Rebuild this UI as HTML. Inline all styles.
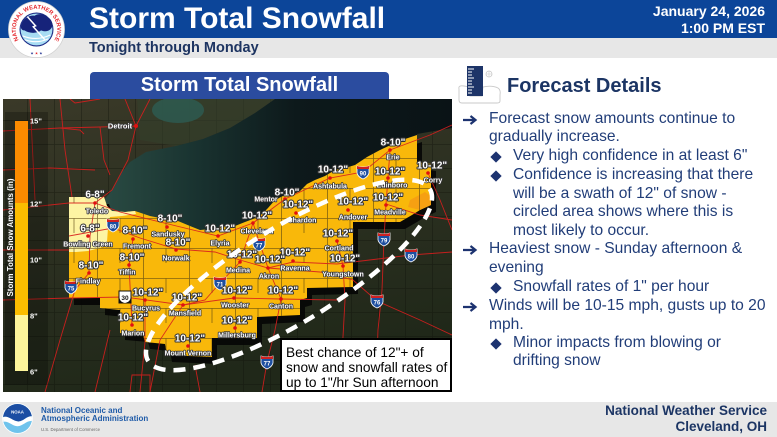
<!DOCTYPE html>
<html><head><meta charset="utf-8">
<style>
*{margin:0;padding:0;box-sizing:border-box}
html,body{width:777px;height:437px;overflow:hidden;background:#fff;font-family:"Liberation Sans",Arial,sans-serif}
.a{position:absolute;white-space:nowrap}
.t{position:absolute;white-space:nowrap;color:#213d78;font-size:15.6px;line-height:18px}
.dm{position:absolute;width:8px;height:8px;background:#1d3370;transform:rotate(45deg)}
.ar{position:absolute}
</style></head><body>

<div class="a" style="left:0;top:0;width:777px;height:38px;background:#0c4599"></div>
<div class="a" style="left:0;top:38px;width:777px;height:20px;background:#e7e7e7"></div>
<div class="a" style="left:0;top:402px;width:777px;height:35px;background:#e7e7e7"></div>

<!-- NWS logo -->
<svg class="a" style="left:8px;top:1px" width="57" height="57" viewBox="0 0 62 62">
<circle cx="31" cy="31" r="30.5" fill="#fff" stroke="#d0d0d0" stroke-width="0.8"/>
<path id="arc" d="M15.1,46.9 A22.5,22.5 0 1 1 46.9,46.9" fill="none"/>
<text font-family="Liberation Sans" font-weight="bold" font-size="6.3" fill="#e4262c"><textPath href="#arc" startOffset="50%" text-anchor="middle">NATIONAL WEATHER SERVICE</textPath></text>
<text x="31" y="58" font-family="DejaVu Sans" font-size="4" text-anchor="middle"><tspan fill="#1b2c8c">★ </tspan><tspan fill="#e4262c">★</tspan><tspan fill="#1b2c8c"> ★</tspan></text>
<circle cx="31" cy="31" r="18.5" fill="#1b2a86"/>
<circle cx="31" cy="31" r="17.3" fill="#a7dcf3"/>
<path d="M14,28 C15,20 22,15 29,16 C33,13 40,14 43,18 C47,19 49,24 48,28 C46,33 40,34 36,32 C31,36 22,35 18,32 C15,32 14,30 14,28 Z" fill="#16237a"/>
<path d="M16,38 Q31,44 46,37 M18,42 Q31,47 44,41" stroke="#fff" stroke-width="1.2" fill="none"/>
<polyline points="21,17 30,27 27.5,28 40,42" stroke="#fff" stroke-width="1.6" fill="none"/>
</svg>

<div class="a" style="left:89px;top:3.6px;font-size:30px;line-height:30px;font-weight:bold;color:#fff">Storm Total Snowfall</div>
<div class="a" style="left:89px;top:40.5px;font-size:14.5px;line-height:15px;font-weight:bold;color:#1d3461">Tonight through Monday</div>
<div class="a" style="right:12px;top:3.4px;font-size:14px;line-height:16.5px;font-weight:bold;color:#fff;text-align:right">January 24, 2026<br>1:00 PM EST</div>

<!-- Map title -->
<div class="a" style="left:90px;top:72px;width:299px;height:27px;background:#2b4c9f;border-radius:4px 4px 0 0;color:#fff;font-size:20px;font-weight:bold;line-height:27px;text-align:center">Storm Total Snowfall</div>

<!-- Map -->
<svg class="a" style="left:3px;top:99px" width="449" height="293" viewBox="3 99 449 293">
<defs>
 <linearGradient id="land" x1="0" y1="0" x2="0.3" y2="1">
  <stop offset="0" stop-color="#3a3928"/><stop offset="0.5" stop-color="#2c3021"/><stop offset="1" stop-color="#202819"/>
 </linearGradient>
 <linearGradient id="lake" x1="0" y1="0" x2="1" y2="0">
  <stop offset="0" stop-color="#2a4b43"/><stop offset="0.25" stop-color="#1a3431"/><stop offset="0.55" stop-color="#0d191b"/><stop offset="1" stop-color="#0a1316"/>
 </linearGradient>
 <pattern id="cty" width="27" height="24" patternUnits="userSpaceOnUse"><path d="M0 0.5H27M0.5 0V24" stroke="#0d0f08" stroke-width="0.8" fill="none"/></pattern>
 <pattern id="cty2" width="46" height="30" patternUnits="userSpaceOnUse" x="5" y="8"><path d="M0 0.5H46M0.5 0V30M23 0V15" stroke="#5c4611" stroke-width="0.8" fill="none"/></pattern>
 <clipPath id="gclip"><path d="M69,197 L104,197 L107,206 L112,211 L125,212 L135,211 L150,216 L165,219 L178,221 L190,226 L200,230 L212,229 L225,226 L235,226 L245,222 L253,219 L262,214 L268,208 L275,200 L283,196 L292,195 L300,191 L307,184 L315,180 L325,176 L335,170 L345,168 L355,165 L367,157 L380,150 L393,144 L405,139 L417,135 L417,162 L431,164 L431,205 L420,210 L412,215 L400,222 L353,222 L353,287 L307,288 L307,298 L300,300 L300,315 L257,317 L257,338 L212,338 L212,357 L167,355 L165,344 L145,342 L143,335 L120,333 L120,310 L100,308 L100,298 L69,298 Z"/></clipPath>
 <style>
  .amt{font:bold 10px "Liberation Sans",sans-serif;fill:#fff;stroke:#333;stroke-width:2px;paint-order:stroke;stroke-linejoin:round;text-anchor:middle}
  .cty{font:bold 7px "Liberation Sans",sans-serif;fill:#fff;stroke:#333;stroke-width:1.6px;paint-order:stroke;stroke-linejoin:round;text-anchor:middle}
  .sh{font:bold 6px "Liberation Sans",sans-serif;fill:#fff;text-anchor:middle}
 </style>
</defs>
<rect x="3" y="99" width="449" height="293" fill="url(#land)"/>
<rect x="3" y="99" width="449" height="293" fill="url(#cty)" opacity="0.42"/>
<path d="M137,99 L140,140 L176,146 L203,139 L230,128 L255,113 L275,99 Z" fill="#33402c" opacity="0.6"/>
<path d="M104,200 L113,189 L122,172 L130,162 L146,152 L176,146 L203,139 L230,128 L255,113 L275,99 L452,99 L452,128 L417,134 L417,170 L250,240 L104,225 Z" fill="url(#lake)"/>
<ellipse cx="178" cy="110" rx="26" ry="13" fill="#2e5a50" opacity="0.85"/>

<!-- shadow + snow regions -->
<path transform="translate(5,7)" fill="#050505" opacity="0.88" d="M69,197 L104,197 L107,206 L112,211 L125,212 L135,211 L150,216 L165,219 L178,221 L190,226 L200,230 L212,229 L225,226 L235,226 L245,222 L253,219 L262,214 L268,208 L275,200 L283,196 L292,195 L300,191 L307,184 L315,180 L325,176 L335,170 L345,168 L355,165 L367,157 L380,150 L393,144 L405,139 L417,135 L417,162 L431,164 L431,205 L420,210 L412,215 L400,222 L353,222 L353,287 L307,288 L307,298 L300,300 L300,315 L257,317 L257,338 L212,338 L212,357 L167,355 L165,344 L145,342 L143,335 L120,333 L120,310 L100,308 L100,298 L69,298 Z"/>
<path fill="#f9b80a" d="M69,197 L104,197 L107,206 L112,211 L125,212 L135,211 L150,216 L165,219 L178,221 L190,226 L200,230 L212,229 L225,226 L235,226 L245,222 L253,219 L262,214 L268,208 L275,200 L283,196 L292,195 L300,191 L307,184 L315,180 L325,176 L335,170 L345,168 L355,165 L367,157 L380,150 L393,144 L405,139 L417,135 L417,162 L431,164 L431,205 L420,210 L412,215 L400,222 L353,222 L353,287 L307,288 L307,298 L300,300 L300,315 L257,317 L257,338 L212,338 L212,357 L167,355 L165,344 L145,342 L143,335 L120,333 L120,310 L100,308 L100,298 L69,298 Z"/>
<path fill="#f59a14" opacity="0.8" d="M410,200 L425,192 L431,196 L431,205 L420,210 L408,207 Z"/>
<path fill="#fdf4a3" d="M69,197 L104,197 L107,206 L112,211 L125,212 L135,211 L136,214 L122,216 L110,217 L108,228 L107,242 L100,248 L88,251 L76,252 L69,252 Z"/>
<rect x="3" y="99" width="449" height="293" fill="url(#cty2)" opacity="0.75" clip-path="url(#gclip)"/>

<!-- roads -->
<g stroke="#d81e1e" stroke-width="0.9" fill="none" opacity="0.9">
<path d="M3,131 L60,128 L100,127 L136,126"/>
<path d="M136,126 L125,99 M136,126 L150,99 M70,99 L75,103 L100,99"/>
<path d="M136,126 L128,160 L112,190 L95,203 L90,236 L89,273 L75,290 L60,340 L45,392"/>
<path d="M60,99 L65,150 L72,197"/>
<path d="M3,170 L50,168 L95,170 M30,99 L35,200 M3,210 L69,203 L95,203 M3,250 L69,250 M100,127 L104,160 L110,175 M60,128 L80,130 L84,134"/>
<path d="M69,236 L113,228 L140,238 L176,249 L215,252 L240,260 L268,268 L293,262 L337,264 L353,262 L411,255 L452,252"/>
<path d="M95,203 L120,212 L160,222 L218,236 L253,223"/>
<path d="M253,223 L285,199 L330,178 L363,172 L390,150 L430,135 L452,125"/>
<path d="M253,223 L240,262 L220,283 L205,300 L183,305 L160,340 L150,392"/>
<path d="M253,223 L268,268 L281,299 L275,330 L267,362 L262,392"/>
<path d="M390,150 L388,178 L386,204 L384,239 L382,290 L378,330 L376,392"/>
<path d="M268,268 L320,272 L353,280 L377,301 L420,320 L452,335"/>
<path d="M3,300 L69,298 L125,297 L183,305 L234,298 L281,299 L337,300"/>
<path d="M133,239 L129,265 L132,325 M145,300 L145,342 L140,392 M337,241 L343,266 L345,300 L340,392"/>
<path d="M428,173 L440,200 L452,230 M386,204 L420,215 L452,220 M110,330 L95,392"/>
<path d="M130,392 L132,375 L150,375 L150,392 M195,365 L200,392 M300,360 L330,380 L360,392"/>
</g>

<!-- shields -->
<g>
<g transform="translate(113,225)"><path d="M-6,-6 Q0,-4 6,-6 L6,1 Q5,5 0,7 Q-5,5 -6,1 Z" fill="#1e4fa0" stroke="#fff" stroke-width="0.8"/><path d="M-6,-6 Q0,-4 6,-6 L6,-3 L-6,-3 Z" fill="#d02020"/><text class="sh" y="3.5">80</text></g>
<g transform="translate(71,287)"><path d="M-6,-6 Q0,-4 6,-6 L6,1 Q5,5 0,7 Q-5,5 -6,1 Z" fill="#1e4fa0" stroke="#fff" stroke-width="0.8"/><path d="M-6,-6 Q0,-4 6,-6 L6,-3 L-6,-3 Z" fill="#d02020"/><text class="sh" y="3.5">75</text></g>
<g transform="translate(220,283)"><path d="M-6,-6 Q0,-4 6,-6 L6,1 Q5,5 0,7 Q-5,5 -6,1 Z" fill="#1e4fa0" stroke="#fff" stroke-width="0.8"/><path d="M-6,-6 Q0,-4 6,-6 L6,-3 L-6,-3 Z" fill="#d02020"/><text class="sh" y="3.5">71</text></g>
<g transform="translate(363,172)"><path d="M-6,-6 Q0,-4 6,-6 L6,1 Q5,5 0,7 Q-5,5 -6,1 Z" fill="#1e4fa0" stroke="#fff" stroke-width="0.8"/><path d="M-6,-6 Q0,-4 6,-6 L6,-3 L-6,-3 Z" fill="#d02020"/><text class="sh" y="3.5">90</text></g>
<g transform="translate(259,244)"><path d="M-6,-6 Q0,-4 6,-6 L6,1 Q5,5 0,7 Q-5,5 -6,1 Z" fill="#1e4fa0" stroke="#fff" stroke-width="0.8"/><path d="M-6,-6 Q0,-4 6,-6 L6,-3 L-6,-3 Z" fill="#d02020"/><text class="sh" y="3.5">77</text></g>
<g transform="translate(384,239)"><path d="M-6,-6 Q0,-4 6,-6 L6,1 Q5,5 0,7 Q-5,5 -6,1 Z" fill="#1e4fa0" stroke="#fff" stroke-width="0.8"/><path d="M-6,-6 Q0,-4 6,-6 L6,-3 L-6,-3 Z" fill="#d02020"/><text class="sh" y="3.5">79</text></g>
<g transform="translate(411,255)"><path d="M-6,-6 Q0,-4 6,-6 L6,1 Q5,5 0,7 Q-5,5 -6,1 Z" fill="#1e4fa0" stroke="#fff" stroke-width="0.8"/><path d="M-6,-6 Q0,-4 6,-6 L6,-3 L-6,-3 Z" fill="#d02020"/><text class="sh" y="3.5">80</text></g>
<g transform="translate(377,301)"><path d="M-6,-6 Q0,-4 6,-6 L6,1 Q5,5 0,7 Q-5,5 -6,1 Z" fill="#1e4fa0" stroke="#fff" stroke-width="0.8"/><path d="M-6,-6 Q0,-4 6,-6 L6,-3 L-6,-3 Z" fill="#d02020"/><text class="sh" y="3.5">76</text></g>
<g transform="translate(267,362)"><path d="M-6,-6 Q0,-4 6,-6 L6,1 Q5,5 0,7 Q-5,5 -6,1 Z" fill="#1e4fa0" stroke="#fff" stroke-width="0.8"/><path d="M-6,-6 Q0,-4 6,-6 L6,-3 L-6,-3 Z" fill="#d02020"/><text class="sh" y="3.5">77</text></g>
<g transform="translate(125,297)"><rect x="-6.5" y="-6.5" width="13" height="13" fill="#111"/><path d="M-5.5,-5.5 H5.5 V1 Q5,5 0,6 Q-5,5 -5.5,1 Z" fill="#fff"/><text y="2.8" style="font:bold 6.5px 'Liberation Sans';fill:#111;text-anchor:middle">30</text></g>
</g>

<!-- dots -->
<g fill="#e01010">
<circle cx="136" cy="126" r="2"/>
<circle cx="95" cy="203" r="1.8"/><circle cx="88" cy="236" r="1.8"/><circle cx="89" cy="273" r="1.8"/><circle cx="133" cy="239" r="1.8"/><circle cx="167" cy="227" r="1.8"/><circle cx="129" cy="265" r="1.8"/><circle cx="176" cy="250" r="1.8"/><circle cx="145" cy="300" r="1.8"/><circle cx="183" cy="305" r="1.8"/><circle cx="132" cy="325" r="1.8"/><circle cx="188" cy="346" r="1.8"/><circle cx="218" cy="236" r="1.8"/><circle cx="253" cy="223" r="1.8"/><circle cx="285" cy="199" r="1.8"/><circle cx="296" cy="213" r="1.8"/><circle cx="330" cy="178" r="1.8"/><circle cx="390" cy="150" r="1.8"/><circle cx="388" cy="178" r="1.8"/><circle cx="428" cy="173" r="1.8"/><circle cx="386" cy="205" r="1.8"/><circle cx="348" cy="210" r="1.8"/><circle cx="337" cy="241" r="1.8"/><circle cx="343" cy="266" r="1.8"/><circle cx="293" cy="261" r="1.8"/><circle cx="268" cy="268" r="1.8"/><circle cx="240" cy="262" r="1.8"/><circle cx="234" cy="298" r="1.8"/><circle cx="281" cy="299" r="1.8"/><circle cx="235" cy="328" r="1.8"/>
</g>

<!-- city names -->
<text class="cty" x="120" y="128.5" style="font-size:7.5px">Detroit</text>
<text class="cty" x="97" y="213.5">Toledo</text>
<text class="cty" x="88" y="246.5">Bowling Green</text>
<text class="cty" x="88" y="283.5">Findlay</text>
<text class="cty" x="137" y="248.5">Fremont</text>
<text class="cty" x="168" y="236.5">Sandusky</text>
<text class="cty" x="127" y="274.5">Tiffin</text>
<text class="cty" x="176" y="260.5">Norwalk</text>
<text class="cty" x="146" y="310.5">Bucyrus</text>
<text class="cty" x="185" y="315.5">Mansfield</text>
<text class="cty" x="133" y="335.5">Marion</text>
<text class="cty" x="188" y="355.5">Mount Vernon</text>
<text class="cty" x="220" y="245.5">Elyria</text>
<text class="cty" x="257" y="233.5">Cleveland</text>
<text class="cty" x="266" y="201.5">Mentor</text>
<text class="cty" x="302" y="222.5">Chardon</text>
<text class="cty" x="330" y="188.5">Ashtabula</text>
<text class="cty" x="393" y="159.5">Erie</text>
<text class="cty" x="392" y="187.5">Edinboro</text>
<text class="cty" x="433" y="182.5">Corry</text>
<text class="cty" x="390" y="214.5">Meadville</text>
<text class="cty" x="353" y="219.5">Andover</text>
<text class="cty" x="339" y="250.5">Cortland</text>
<text class="cty" x="343" y="276.5">Youngstown</text>
<text class="cty" x="295" y="270.5">Ravenna</text>
<text class="cty" x="269" y="278.5">Akron</text>
<text class="cty" x="238" y="272.5">Medina</text>
<text class="cty" x="235" y="307.5">Wooster</text>
<text class="cty" x="281" y="308.5">Canton</text>
<text class="cty" x="237" y="337.5">Millersburg</text>

<!-- amounts -->
<text class="amt" x="95" y="197.5">6-8"</text>
<text class="amt" x="90" y="231.5">6-8"</text>
<text class="amt" x="91" y="268.5">8-10"</text>
<text class="amt" x="135" y="233.5">8-10"</text>
<text class="amt" x="170" y="221.5">8-10"</text>
<text class="amt" x="132" y="260.5">8-10"</text>
<text class="amt" x="178" y="245.5">8-10"</text>
<text class="amt" x="148" y="295.5">10-12"</text>
<text class="amt" x="187" y="300.5">10-12"</text>
<text class="amt" x="133" y="320.5">10-12"</text>
<text class="amt" x="190" y="341.5">10-12"</text>
<text class="amt" x="220" y="231.5">10-12"</text>
<text class="amt" x="257" y="218.5">10-12"</text>
<text class="amt" x="287" y="195.5">8-10"</text>
<text class="amt" x="298" y="207.5">10-12"</text>
<text class="amt" x="333" y="172.5">10-12"</text>
<text class="amt" x="393" y="145.5">8-10"</text>
<text class="amt" x="390" y="174.5">10-12"</text>
<text class="amt" x="432" y="168.5">10-12"</text>
<text class="amt" x="388" y="200.5">10-12"</text>
<text class="amt" x="353" y="204.5">10-12"</text>
<text class="amt" x="338" y="236.5">10-12"</text>
<text class="amt" x="345" y="261.5">10-12"</text>
<text class="amt" x="295" y="255.5">10-12"</text>
<text class="amt" x="270" y="262.5">10-12"</text>
<text class="amt" x="242" y="257.5">10-12"</text>
<text class="amt" x="237" y="293.5">10-12"</text>
<text class="amt" x="283" y="293.5">10-12"</text>
<text class="amt" x="237" y="323.5">10-12"</text>

<!-- dashed area -->
<ellipse cx="289" cy="275" rx="165" ry="48" transform="rotate(-31.4 289 275)" fill="none" stroke="#fff" stroke-width="4.5" stroke-dasharray="12 8"/>

<!-- legend -->
<rect x="5" y="112" width="43" height="273" fill="#000" opacity="0.25"/>
<rect x="15" y="121" width="13" height="82" fill="#fb8b00"/>
<rect x="15" y="203" width="13" height="112" fill="#fbbd00"/>
<rect x="15" y="315" width="13" height="56" fill="#fdf59b"/>
<g style="font:bold 7.5px 'Liberation Sans',sans-serif" fill="#fff">
<text x="30" y="123.5">15"</text>
<text x="30" y="206.5">12"</text>
<text x="30" y="262.5">10"</text>
<text x="30" y="318.5">8"</text>
<text x="30" y="374.5">6"</text>
</g>
<text transform="translate(13 237.5) rotate(-90)" text-anchor="middle" style="font:bold 8px 'Liberation Sans',sans-serif" fill="#fff" textLength="118" lengthAdjust="spacingAndGlyphs">Storm Total Snow Amounts (in)</text>
</svg>

<!-- annotation box -->
<div class="a" style="left:280px;top:338px;width:172px;height:54px;background:#fff;border:2px solid #000;padding:4.6px 0 0 4px;font-size:13.7px;line-height:15.3px;color:#000">Best chance of 12"+ of<br>snow and snowfall rates of<br>up to 1"/hr Sun afternoon</div>

<!-- forecast icon -->
<svg class="a" style="left:456px;top:63px" width="48" height="42" viewBox="0 0 48 42">
<path d="M3,26 Q2,22 8,23 L14,24 L14,33 L26,33 L27,24 Q36,22 42,25 Q45,27 44,32 L44,38 Q44,40 41,40 L6,40 Q3,40 3,37 Z" fill="#fff" stroke="#c9c9c9" stroke-width="0.9"/>
<rect x="11" y="3" width="16" height="30" fill="#1d3468"/>
<g stroke="#fff" stroke-width="1"><path d="M12,6 H18 M12,9 H16 M12,12 H16 M12,15 H18 M12,18 H16 M12,21 H16 M12,24 H18 M12,27 H16 M12,30 H16"/></g>
<circle cx="33" cy="11" r="3" fill="none" stroke="#c8c8c8" stroke-width="0.8"/>
<path d="M30,11 H36 M33,8 V14" stroke="#c8c8c8" stroke-width="0.6"/>
</svg>
<div class="a" style="left:507px;top:76px;font-size:20px;line-height:20px;font-weight:bold;color:#1c3564">Forecast Details</div>

<!-- bullets -->
<svg class="ar" style="left:463px;top:115px" width="15" height="10" viewBox="0 0 15 10"><path d="M0,5 H12 M7.5,1 L12.5,5 L7.5,9" stroke="#1d3370" stroke-width="2.2" fill="none"/></svg>
<div class="t" style="left:489px;top:110px">Forecast snow amounts continue to</div>
<div class="t" style="left:489px;top:128px">gradually increase.</div>
<div class="dm" style="left:492px;top:153px"></div>
<div class="t" style="left:513px;top:147px">Very high confidence in at least 6"</div>
<div class="dm" style="left:492px;top:172px"></div>
<div class="t" style="left:513px;top:166px">Confidence is increasing that there</div>
<div class="t" style="left:513px;top:185px">will be a swath of 12" of snow -</div>
<div class="t" style="left:513px;top:203px">circled area shows where this is</div>
<div class="t" style="left:513px;top:222px">most likely to occur.</div>
<svg class="ar" style="left:463px;top:245px" width="15" height="10" viewBox="0 0 15 10"><path d="M0,5 H12 M7.5,1 L12.5,5 L7.5,9" stroke="#1d3370" stroke-width="2.2" fill="none"/></svg>
<div class="t" style="left:489px;top:240px">Heaviest snow - Sunday afternoon &amp;</div>
<div class="t" style="left:489px;top:259px">evening</div>
<div class="dm" style="left:492px;top:284px"></div>
<div class="t" style="left:513px;top:278px">Snowfall rates of 1" per hour</div>
<svg class="ar" style="left:463px;top:302px" width="15" height="10" viewBox="0 0 15 10"><path d="M0,5 H12 M7.5,1 L12.5,5 L7.5,9" stroke="#1d3370" stroke-width="2.2" fill="none"/></svg>
<div class="t" style="left:489px;top:297px">Winds will be 10-15 mph, gusts up to 20</div>
<div class="t" style="left:489px;top:316px">mph.</div>
<div class="dm" style="left:492px;top:340px"></div>
<div class="t" style="left:513px;top:334px">Minor impacts from blowing or</div>
<div class="t" style="left:513px;top:352px">drifting snow</div>

<!-- footer -->
<svg class="a" style="left:2px;top:403px" width="31" height="31" viewBox="0 0 32 32">
<defs><clipPath id="nc"><circle cx="16" cy="16" r="15"/></clipPath></defs>
<circle cx="16" cy="16" r="15.8" fill="#fff"/>
<g clip-path="url(#nc)">
<rect width="32" height="32" fill="#6fc3ec"/>
<path d="M0,0 H32 V14 C26,12 22,20 16,19 C10,18 6,12 0,15 Z" fill="#1c4ea3"/>
<path d="M0,15 C6,12 10,18 16,19 C22,20 26,12 32,14 L32,19 C26,17 22,24 16,24 C10,24 6,17 0,20 Z" fill="#fff"/>
</g>
<text x="16" y="11" font-family="Liberation Sans" font-size="4.5" font-weight="bold" fill="#fff" text-anchor="middle">NOAA</text>
</svg>
<div class="a" style="left:41px;top:406.5px;font-size:8px;line-height:8.4px;font-weight:bold;color:#1f5ba8">National Oceanic and<br>Atmospheric Administration</div>
<div class="a" style="left:41px;top:426.5px;font-size:4.3px;line-height:5px;color:#666">U.S. Department of Commerce</div>
<div class="a" style="right:10px;top:403px;font-size:13.5px;line-height:16.3px;font-weight:bold;color:#1c3564;text-align:right">National Weather Service<br>Cleveland, OH</div>

</body></html>
